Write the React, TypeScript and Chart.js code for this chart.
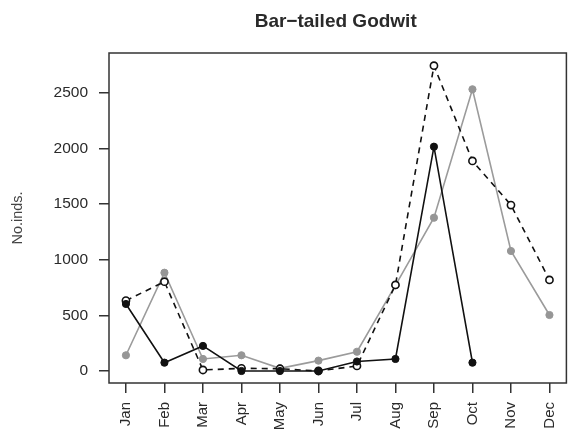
import React, { useEffect, useRef } from "react";
import { Chart, registerables } from "chart.js";

Chart.register(...registerables);

const title = "Bar\u2212tailed Godwit";
const yAxisTitle = "No.inds.";
const months = ["Jan", "Feb", "Mar", "Apr", "May", "Jun", "Jul", "Aug", "Sep", "Oct", "Nov", "Dec"];
const yTicks = [0, 500, 1000, 1500, 2000, 2500];

// black filled circles, solid line
const seriesBlack: (number | null)[] = [602, 75, 225, 0, 0, 0, 85, 108, 2015, 75, null, null];
// grey filled circles, solid grey line
const seriesGrey: (number | null)[] = [141, 883, 108, 141, 24, 93, 173, 770, 1377, 2531, 1078, 503];
// open circles, dashed line
const seriesOpen: (number | null)[] = [632, 802, 9, 24, 20, 0, 45, 773, 2743, 1887, 1491, 818];

const toPoints = (arr: (number | null)[]) => arr.map((v, i) => ({ x: i + 1, y: v }));

const FONT = "'Liberation Sans', Arial, Helvetica, sans-serif";
const TEXT = "#2a2a2a";

export default function App() {
  const ref = useRef<HTMLCanvasElement | null>(null);

  useEffect(() => {
    if (!ref.current) return;
    const boxPlugin = {
      id: "boxAndTitle",
      afterDraw(chart: any) {
        const { ctx, chartArea } = chart;
        ctx.save();
        ctx.strokeStyle = "#333";
        ctx.lineWidth = 1.5;
        ctx.strokeRect(chartArea.left, chartArea.top, chartArea.right - chartArea.left, chartArea.bottom - chartArea.top);
        ctx.fillStyle = TEXT;
        ctx.font = `bold 19px ${FONT}`;
        ctx.textAlign = "center";
        ctx.textBaseline = "middle";
        ctx.fillText(title, (chartArea.left + chartArea.right) / 2 - 2, 22);
        ctx.restore();
      },
    };

    const chart = new Chart(ref.current, {
      type: "line",
      data: {
        datasets: [
          {
            label: "black",
            data: toPoints(seriesBlack),
            borderColor: "#111",
            backgroundColor: "#111",
            borderWidth: 1.6,
            pointRadius: 3.6,
            pointBorderWidth: 1,
            pointBorderColor: "#111",
            pointBackgroundColor: "#111",
            spanGaps: false,
            order: 0,
          },
          {
            label: "open",
            data: toPoints(seriesOpen),
            borderColor: "#111",
            backgroundColor: "#fff",
            borderWidth: 1.6,
            borderDash: [6, 5],
            pointRadius: 3.6,
            pointBorderWidth: 1.6,
            pointBorderColor: "#111",
            pointBackgroundColor: "#fff",
            order: 1,
          },
          {
            label: "grey",
            data: toPoints(seriesGrey),
            borderColor: "rgb(155,155,155)",
            backgroundColor: "rgb(150,150,150)",
            borderWidth: 1.6,
            pointRadius: 3.6,
            pointBorderWidth: 1,
            pointBorderColor: "rgb(150,150,150)",
            pointBackgroundColor: "rgb(150,150,150)",
            order: 2,
          },
        ],
      },
      options: {
        responsive: false,
        animation: false,
        events: [],
        layout: { padding: { top: 53, right: 1, bottom: 0, left: 0 } },
        plugins: {
          legend: { display: false },
          tooltip: { enabled: false },
          title: { display: false },
        },
        scales: {
          x: {
            type: "linear",
            min: 0.56,
            max: 12.44,
            afterBuildTicks: (scale: any) => {
              scale.ticks = months.map((_, i) => ({ value: i + 1 }));
            },
            afterFit: (scale: any) => {
              scale.height = 51;
              scale.paddingLeft = 0;
              scale.paddingRight = 0;
            },
            ticks: {
              autoSkip: false,
              minRotation: 90,
              maxRotation: 90,
              padding: 9,
              color: TEXT,
              font: { family: FONT, size: 15 },
              callback: (v: any) => months[Math.round(Number(v)) - 1] ?? "",
            },
            grid: {
              drawOnChartArea: false,
              drawTicks: true,
              tickLength: 10,
              color: "#333",
              lineWidth: 1.5,
            },
            border: { display: false },
          },
          y: {
            type: "linear",
            min: -108,
            max: 2857,
            afterBuildTicks: (scale: any) => {
              scale.ticks = yTicks.map((v) => ({ value: v }));
            },
            afterFit: (scale: any) => {
              scale.width = 109;
              scale.paddingTop = 0;
              scale.paddingBottom = 0;
            },
            ticks: {
              padding: 11,
              color: TEXT,
              font: { family: FONT, size: 15.5 },
              callback: (v: any) => String(v),
            },
            grid: {
              drawOnChartArea: false,
              drawTicks: true,
              tickLength: 10,
              color: "#333",
              lineWidth: 1.5,
            },
            border: { display: false },
            title: {
              display: true,
              text: yAxisTitle,
              color: "#444",
              font: { family: FONT, size: 14.5 },
              padding: { top: 9, bottom: 0 },
            },
          },
        },
      },
      plugins: [boxPlugin],
    });
    return () => chart.destroy();
  }, []);

  return (
    <div style={{ position: "fixed", left: 0, top: 0, width: 572, height: 434, background: "#fff" }}>
      <canvas ref={ref} width={572} height={434} style={{ display: "block" }} />
    </div>
  );
}
